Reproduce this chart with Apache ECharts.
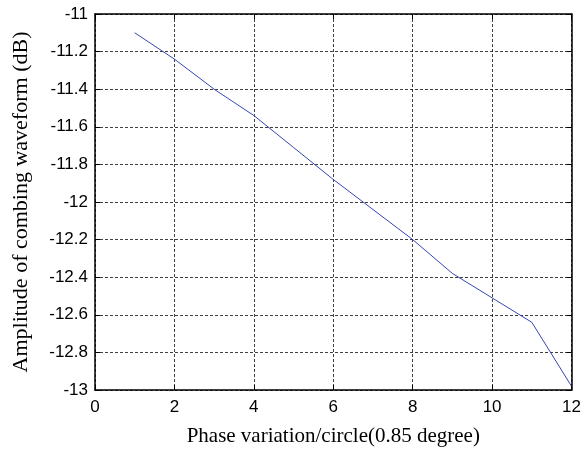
<!DOCTYPE html>
<html>
<head>
<meta charset="utf-8">
<script src="https://cdn.jsdelivr.net/npm/echarts@6/dist/echarts.min.js"></script>
<style>
  html, body { margin: 0; padding: 0; background: #fff; }
  #chart { width: 584px; height: 453px; }
</style>
</head>
<body>
<div id="chart"></div>
<script>
  // phase variation steps and measured amplitude (dB)
  const phaseSteps = [1, 2, 3, 4, 5, 6, 7, 8, 9, 10, 11, 12];
  const amplitude = [-11.10, -11.24, -11.40, -11.54, -11.71, -11.88, -12.04, -12.20, -12.38, -12.51, -12.64, -12.98];

  let myChart = echarts.init(document.getElementById('chart'));

  const tickFont = { color: '#000', fontFamily: 'Liberation Sans, Arial, sans-serif', fontSize: 17 };
  const gridLine = { show: true, lineStyle: { color: '#000', type: [3, 2], width: 1, opacity: 0.75 } };
  const boxLine = { show: true, onZero: false, lineStyle: { color: '#000', width: 1.5 } };
  const inTick = { show: true, inside: true, length: 5, lineStyle: { color: '#000' } };

  let option = {
    animation: false,
    grid: { left: 95, right: 12, top: 14, bottom: 63, containLabel: false },
    xAxis: [
      {
        type: 'value',
        min: 0, max: 12, interval: 2,
        name: 'Phase variation/circle(0.85 degree)',
        nameLocation: 'middle',
        nameGap: 36,
        nameTextStyle: { color: '#000', fontFamily: 'Liberation Serif, Times New Roman, serif', fontSize: 21 },
        axisLine: boxLine,
        axisTick: inTick,
        axisLabel: Object.assign({ margin: 9 }, tickFont),
        splitLine: gridLine
      },
      {
        type: 'value',
        position: 'top',
        min: 0, max: 12, interval: 2,
        axisLine: boxLine,
        axisTick: inTick,
        axisLabel: { show: false },
        splitLine: { show: false }
      }
    ],
    yAxis: [
      {
        type: 'value',
        min: -13, max: -11, interval: 0.2,
        name: 'Amplitude of combing waveform (dB)',
        nameLocation: 'middle',
        nameGap: 63,
        nameTextStyle: { color: '#000', fontFamily: 'Liberation Serif, Times New Roman, serif', fontSize: 22 },
        axisLine: boxLine,
        axisTick: inTick,
        axisLabel: Object.assign({ margin: 7 }, tickFont),
        splitLine: gridLine
      },
      {
        type: 'value',
        position: 'right',
        min: -13, max: -11, interval: 0.2,
        axisLine: boxLine,
        axisTick: inTick,
        axisLabel: { show: false },
        splitLine: { show: false }
      }
    ],
    series: [
      {
        type: 'line',
        data: phaseSteps.map((x, i) => [x, amplitude[i]]),
        symbol: 'none',
        lineStyle: { color: '#3546b0', width: 1 }
      }
    ]
  };
  myChart.setOption(option);
</script>
</body>
</html>
